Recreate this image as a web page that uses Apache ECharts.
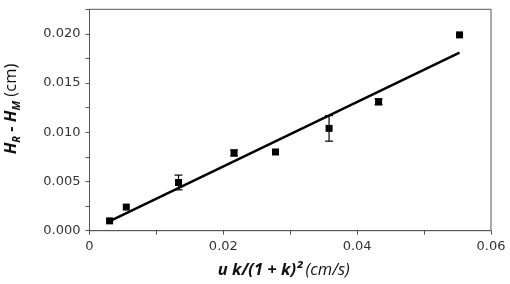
<!DOCTYPE html>
<html>
<head>
<meta charset="utf-8">
<script src="https://cdn.jsdelivr.net/npm/echarts@6/dist/echarts.min.js"></script>
<style>
  html, body { margin: 0; padding: 0; background: #fff; }
  #chart { width: 510px; height: 284px; }
</style>
</head>
<body>
<div id="chart"></div>
<script>
// measured points (x, y) and symmetric error
const xValues = [0.0030, 0.0055, 0.0133, 0.0216, 0.0278, 0.0358, 0.0432, 0.0553]
const yValues = [0.0010, 0.0024, 0.0049, 0.0079, 0.0080, 0.0104, 0.0131, 0.0199]
const yErrors = [0, 0, 0.00075, 0.0003, 0, 0.0013, 0.0003, 0]

// linear fit end points
const fitX = [0.0028, 0.0553]
const fitY = [0.0009, 0.0181]

const xTicks = [0, 0.02, 0.04, 0.06]
const yTicks = [0, 0.005, 0.010, 0.015, 0.020]

const chart = echarts.init(document.getElementById('chart'))

const tickFont = { color: '#333', fontFamily: 'DejaVu Sans', fontSize: 13 }
const nameFont = 'Open Sans'

chart.setOption({
  animation: false,
  backgroundColor: '#fff',
  grid: {
    left: 89.5, right: 19, top: 9.3, bottom: 53.3,
    outerBoundsMode: 'none',
    containLabel: false,
    show: true, borderColor: '#555', borderWidth: 1
  },
  xAxis: {
    type: 'value',
    min: xTicks[0], max: xTicks[xTicks.length - 1], interval: 0.02,
    axisLine: { lineStyle: { color: '#555' } },
    axisTick: { show: true, length: 4, lineStyle: { color: '#555' } },
    minorTick: { show: true, splitNumber: 2, length: 4, lineStyle: { color: '#555' } },
    splitLine: { show: false },
    axisLabel: { ...tickFont, margin: 9, formatter: v => (v === 0 ? '0' : v.toFixed(2)) },
    name: '{b|u k/(1 + k)²} {i|(cm/s)}',
    nameLocation: 'middle',
    nameGap: 31,
    nameTextStyle: {
      padding: [0, 13, 0, 0],
      rich: {
        b: { fontFamily: nameFont, fontSize: 16.5, fontWeight: 'bold', fontStyle: 'italic', color: '#111' },
        i: { fontFamily: nameFont, fontSize: 16.5, fontStyle: 'italic', color: '#111' }
      }
    }
  },
  yAxis: {
    type: 'value',
    min: yTicks[0], max: 0.0225, interval: 0.005,
    axisLine: { show: true, lineStyle: { color: '#555' } },
    axisTick: { show: true, length: 4, lineStyle: { color: '#555' } },
    minorTick: { show: true, splitNumber: 2, length: 4, lineStyle: { color: '#555' } },
    splitLine: { show: false },
    axisLabel: { ...tickFont, margin: 9, showMaxLabel: false, formatter: v => v.toFixed(3) },
    name: '{b|H}{s|R}{b| - H}{s|M}{n| (cm)}',
    nameLocation: 'middle',
    nameGap: 70,
    nameRotate: 90,
    nameTextStyle: {
      padding: [0, 0, 0, 22],
      rich: {
        b: { fontFamily: nameFont, fontSize: 16.5, fontWeight: 'bold', fontStyle: 'italic', color: '#111', verticalAlign: 'bottom' },
        s: { fontFamily: nameFont, fontSize: 11, fontWeight: 'bold', fontStyle: 'italic', color: '#111', verticalAlign: 'bottom', padding: [0, 0, -3, 0] },
        n: { fontFamily: nameFont, fontSize: 16.5, color: '#111', verticalAlign: 'bottom' }
      }
    }
  },
  series: [
    {
      name: 'fit',
      type: 'line',
      data: fitX.map((x, i) => [x, fitY[i]]),
      showSymbol: false,
      lineStyle: { color: '#000', width: 2.5 },
      z: 2
    },
    {
      name: 'error',
      type: 'custom',
      data: xValues.map((x, i) => [x, yValues[i] - yErrors[i], yValues[i] + yErrors[i]]),
      renderItem: (params, api) => {
        const lo = api.coord([api.value(0), api.value(1)])
        const hi = api.coord([api.value(0), api.value(2)])
        if (hi[1] === lo[1]) return null
        const w = 4
        const style = { stroke: '#000', lineWidth: 1.2 }
        return {
          type: 'group',
          children: [
            { type: 'line', shape: { x1: lo[0], y1: lo[1], x2: hi[0], y2: hi[1] }, style },
            { type: 'line', shape: { x1: lo[0] - w, y1: lo[1], x2: lo[0] + w, y2: lo[1] }, style },
            { type: 'line', shape: { x1: hi[0] - w, y1: hi[1], x2: hi[0] + w, y2: hi[1] }, style }
          ]
        }
      },
      z: 3
    },
    {
      name: 'data',
      type: 'scatter',
      data: xValues.map((x, i) => [x, yValues[i]]),
      symbol: 'rect',
      symbolSize: 7,
      itemStyle: { color: '#000', opacity: 1 },
      z: 4
    }
  ]
})
</script>
</body>
</html>
